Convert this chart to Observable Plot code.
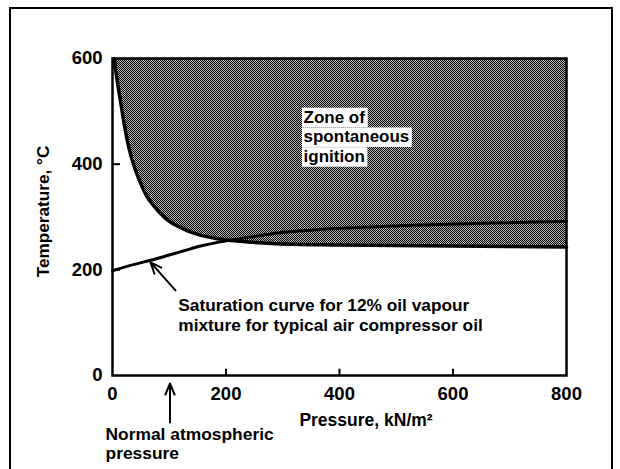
<!DOCTYPE html>
<html><head><meta charset="utf-8">
<script src="https://cdn.jsdelivr.net/npm/d3@7"></script>
<script src="https://cdn.jsdelivr.net/npm/@observablehq/plot@0.6"></script>
<style>
html,body{margin:0;padding:0;background:#fff;overflow:hidden;}
#wrap{position:relative;width:620px;height:469px;overflow:hidden;}
#chart{position:absolute;left:0;top:0;}
#border{position:absolute;left:9px;top:7px;width:604px;height:520px;border:2px solid #000;box-sizing:border-box;pointer-events:none;}
</style></head><body>
<div id="wrap"><div id="chart"></div><div id="border"></div></div>
<script>
// Ignition (spontaneous ignition) boundary curve
const ignP = [3, 8, 14, 20, 27, 37, 48, 60, 75, 95, 120, 150, 185, 226, 280, 400, 600, 800];
const ignT = [600, 560, 520, 480, 440, 400, 368, 340, 318, 296, 280, 267, 259, 254, 250, 247, 245, 243];
// Saturation curve for 12% oil vapour mixture
const satP = [0, 30, 67, 100, 126, 155, 185, 226, 273, 350, 450, 550, 650, 800];
const satT = [198, 208, 218, 228, 236, 245, 252, 259, 267, 275, 281, 285, 288, 292];
const xTicks = [0, 200, 400, 600, 800];
const yTicks = [0, 200, 400, 600];
const innerXTicks = [200, 400, 600];
const innerYTicks = [200, 400];
const atmP = 101.3;
const xLabel = "Pressure, kN/m\u00B2";
const yLabel = "Temperature, \u00B0C";
const satLabel = "Saturation curve for 12% oil vapour\nmixture for typical air compressor oil";
const atmLabel = "Normal atmospheric\npressure";
const zoneLines = ["Zone of", "spontaneous", "ignition"];

const ign = ignP.map((p, i) => ({p, T: ignT[i]}));
const sat = satP.map((p, i) => ({p, T: satT[i]}));
const yMax = d3.max(yTicks);
const F = "'Liberation Sans', Arial, sans-serif";

const plot = Plot.plot({
  width: 620, height: 469,
  marginLeft: 112, marginRight: 54, marginTop: 58, marginBottom: 94,
  x: {domain: [0, 800]},
  y: {domain: [0, yMax]},
  style: {fontFamily: F, fontSize: "17px", fontWeight: "bold", color: "#000", background: "transparent"},
  marks: [
    Plot.areaY(ign, {x: "p", y1: "T", y2: yMax, fill: "url(#stip)", curve: "monotone-x"}),
    Plot.line(ign, {x: "p", y: "T", stroke: "#000", strokeWidth: 3.5, curve: "monotone-x"}),
    Plot.line(sat, {x: "p", y: "T", stroke: "#000", strokeWidth: 3, curve: "monotone-x"}),
    Plot.frame({stroke: "#000", strokeWidth: 2.5}),
    Plot.ruleX(innerXTicks, {x: d => d, y1: 0, y2: 12, stroke: "#000", strokeWidth: 2}),
    Plot.ruleY(innerYTicks, {y: d => d, x1: 0, x2: 14, stroke: "#000", strokeWidth: 2}),
    Plot.axisX({ticks: xTicks, tickSize: 0, tickPadding: 11, label: null, fontSize: 18.5, fontWeight: "bold"}),
    Plot.axisY({ticks: yTicks, tickSize: 0, tickPadding: 10, label: null, fontSize: 18.5, fontWeight: "bold"}),
    Plot.text([yLabel], {text: d => d, frameAnchor: "left", textAnchor: "middle", lineAnchor: "middle", rotate: -90, dx: -69, dy: -5.5, fontSize: 17.2, fontWeight: "bold"}),
    Plot.text([xLabel], {text: d => d, frameAnchor: "bottom", textAnchor: "middle", lineAnchor: "middle", dx: 26.5, dy: 45, fontSize: 17.5, fontWeight: "bold"}),
    Plot.text([satLabel], {text: d => d, x: 116, y: 115.5, textAnchor: "start", lineAnchor: "middle", lineHeight: 1.16, fontSize: 17.3, fontWeight: "bold"}),
    Plot.text([atmLabel], {text: d => d, x: -12.3, y: -128, textAnchor: "start", lineAnchor: "middle", lineHeight: 1.1, fontSize: 17.4, fontWeight: "bold"}),
    ...zoneLines.map((line, i) => Plot.text([line], {text: d => d, x: 336.6, y: 451.4, dy: (i - 1) * 19.75, textAnchor: "start", lineAnchor: "middle", fontSize: 17, fontWeight: "bold"})),
    Plot.arrow([atmP], {x1: d => d, x2: d => d, y1: -89, y2: -15, stroke: "#000", strokeWidth: 2, headLength: 9, headAngle: 45}),
    Plot.arrow([0], {x1: 111, y1: 161, x2: 67, y2: 214, stroke: "#000", strokeWidth: 2, headLength: 9, headAngle: 45})
  ]
});

document.getElementById("chart").appendChild(plot);
const svg = d3.select(plot);
const defs = svg.insert("defs", ":first-child");
const pat = defs.append("pattern").attr("id", "stip").attr("patternUnits", "userSpaceOnUse")
  .attr("width", 2).attr("height", 2).attr("shape-rendering", "crispEdges");
pat.append("rect").attr("width", 2).attr("height", 2).attr("fill", "#b4b4b4");
pat.append("rect").attr("x", 0).attr("y", 0).attr("width", 1).attr("height", 1).attr("fill", "#000");
pat.append("rect").attr("x", 1).attr("y", 1).attr("width", 1).attr("height", 1).attr("fill", "#000");

// white label boxes behind the "Zone of spontaneous ignition" lines
const svgBox = plot.getBoundingClientRect();
const zoneTexts = Array.from(plot.querySelectorAll("text")).filter(t => zoneLines.includes(t.textContent.trim()));
if (zoneTexts.length) {
  const firstG = zoneTexts[0].parentNode;
  const boxG = document.createElementNS("http://www.w3.org/2000/svg", "g");
  firstG.parentNode.insertBefore(boxG, firstG);
  zoneTexts.forEach(t => {
    const r = t.getBoundingClientRect();
    const rect = document.createElementNS("http://www.w3.org/2000/svg", "rect");
    rect.setAttribute("x", r.left - svgBox.left - 1.5);
    rect.setAttribute("y", r.top - svgBox.top);
    rect.setAttribute("width", r.width + 4);
    rect.setAttribute("height", r.height + 0.5);
    rect.setAttribute("fill", "#fff");
    boxG.appendChild(rect);
  });
}
</script>
</body></html>
